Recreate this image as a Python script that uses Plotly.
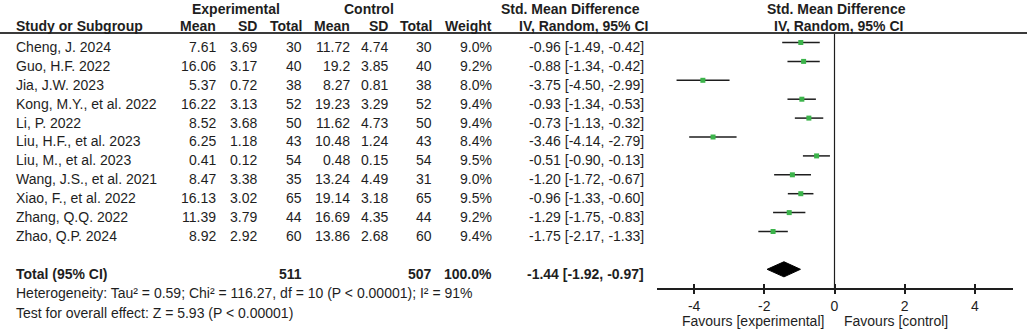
import plotly.graph_objects as go

# ---------------- data ----------------
studies = ["Cheng, J. 2024", "Guo, H.F. 2022", "Jia, J.W. 2023", "Kong, M.Y., et al. 2022",
           "Li, P. 2022", "Liu, H.F., et al. 2023", "Liu, M., et al. 2023", "Wang, J.S., et al. 2021",
           "Xiao, F., et al. 2022", "Zhang, Q.Q. 2022", "Zhao, Q.P. 2024"]
exp_mean = ["7.61", "16.06", "5.37", "16.22", "8.52", "6.25", "0.41", "8.47", "16.13", "11.39", "8.92"]
exp_sd = ["3.69", "3.17", "0.72", "3.13", "3.68", "1.18", "0.12", "3.38", "3.02", "3.79", "2.92"]
exp_n = [30, 40, 38, 52, 50, 43, 54, 35, 65, 44, 60]
ctl_mean = ["11.72", "19.2", "8.27", "19.23", "11.62", "10.48", "0.48", "13.24", "19.14", "16.69", "13.86"]
ctl_sd = ["4.74", "3.85", "0.81", "3.29", "4.73", "1.24", "0.15", "4.49", "3.18", "4.35", "2.68"]
ctl_n = [30, 40, 38, 52, 50, 43, 54, 31, 65, 44, 60]
weight = [9.0, 9.2, 8.0, 9.4, 9.4, 8.4, 9.5, 9.0, 9.5, 9.2, 9.4]
smd = [-0.96, -0.88, -3.75, -0.93, -0.73, -3.46, -0.51, -1.20, -0.96, -1.29, -1.75]
ci_lo = [-1.49, -1.34, -4.50, -1.34, -1.13, -4.14, -0.90, -1.72, -1.33, -1.75, -2.17]
ci_hi = [-0.42, -0.42, -2.99, -0.53, -0.32, -2.79, -0.13, -0.67, -0.60, -0.83, -1.33]

total_exp_n = 511
total_ctl_n = 507
total_weight = 100.0
total_smd = -1.44
total_lo = -1.92
total_hi = -0.97

heterogeneity = "Heterogeneity: Tau² = 0.59; Chi² = 116.27, df = 10 (P < 0.00001); I² = 91%"
overall_test = "Test for overall effect: Z = 5.93 (P < 0.00001)"
tick_vals = [-4, -2, 0, 2, 4]
tick_text = ["-4", "-2", "0", "2", "4"]

# ---------------- layout constants ----------------
W, H = 1029, 330
ROW0, ROWH = 42.5, 18.9          # pixel y of first row marks, row height
TEXT_OFF = 4.5                   # text sits a bit lower than marks
AXIS_PX = 288
TOTAL_ROW = len(studies) + 1
FONT = "Liberation Sans, Arial, sans-serif"
TXT = "#1e1e1e"
FS = 14

def py(px):
    return 1 - px / H

def row_px(i):
    return ROW0 + ROWH * i + TEXT_OFF

fig = go.Figure()

n = len(studies)
rows = list(range(n))
err_plus = [h - m for h, m in zip(ci_hi, smd)]
err_minus = [m - l for m, l in zip(smd, ci_lo)]

# zero line
fig.add_trace(go.Scatter(x=[0, 0], y=[-0.5, TOTAL_ROW + 1], mode="lines",
                         line=dict(color="#1e1e1e", width=1.2), hoverinfo="skip", showlegend=False))

# CIs + squares
fig.add_trace(go.Scatter(
    x=smd, y=rows, mode="markers",
    marker=dict(symbol="square", size=5, color="#3cb44b"),
    error_x=dict(type="data", array=err_plus, arrayminus=err_minus, symmetric=False,
                 thickness=1.5, width=0, color="#1e1e1e"),
    showlegend=False, hoverinfo="skip"))

# diamond
dh = 0.4
fig.add_trace(go.Scatter(
    x=[total_lo, total_smd, total_hi, total_smd, total_lo],
    y=[TOTAL_ROW, TOTAL_ROW - dh, TOTAL_ROW, TOTAL_ROW + dh, TOTAL_ROW],
    mode="lines", fill="toself", fillcolor="#000000", line=dict(color="#000000", width=1),
    showlegend=False, hoverinfo="skip"))

# invisible trace for the overlay axis (inside ticks)
fig.add_trace(go.Scatter(x=[0], y=[0], xaxis="x2", yaxis="y", mode="markers",
                         marker=dict(opacity=0), showlegend=False, hoverinfo="skip"))

# axes
x0_px, x1_px = 657, 1013
zero_px, unit_px = 834.5, 35.1
xr = [-(zero_px - x0_px) / unit_px, (x1_px - zero_px) / unit_px]
y_top = -ROW0 / ROWH
y_bot = (AXIS_PX - ROW0) / ROWH
ydom = [1 - AXIS_PX / H, 1]

fig.update_layout(
    width=W, height=H, margin=dict(l=0, r=0, t=0, b=0),
    paper_bgcolor="white", plot_bgcolor="white",
    xaxis=dict(domain=[x0_px / W, x1_px / W], range=xr, showgrid=False, zeroline=False,
               showline=True, linecolor="#1e1e1e", linewidth=1.5,
               ticks="outside", ticklen=4, tickwidth=1.5, tickcolor="#1e1e1e",
               tickvals=tick_vals, ticktext=tick_text,
               tickfont=dict(family=FONT, size=FS, color=TXT), anchor="y"),
    xaxis2=dict(domain=[x0_px / W, x1_px / W], range=xr, overlaying="x", matches="x",
                showgrid=False, zeroline=False, showline=False,
                ticks="inside", ticklen=4, tickwidth=1.5, tickcolor="#1e1e1e",
                tickvals=tick_vals, showticklabels=False, anchor="y", side="bottom"),
    yaxis=dict(domain=ydom, range=[y_bot, y_top], visible=False, showgrid=False, zeroline=False),
    font=dict(family=FONT, size=FS, color=TXT),
)

# header underline
fig.add_shape(type="line", xref="paper", yref="paper", x0=0, x1=1027 / W, y0=py(33), y1=py(33),
              line=dict(color="#3a3a3a", width=2))

ann = []

def add(text, xpx, ypx, anchor="right", bold=False):
    if bold:
        text = "<b>" + text + "</b>"
    ann.append(dict(text=text, x=xpx / W, y=py(ypx), xref="paper", yref="paper",
                    xanchor=anchor, yanchor="middle", showarrow=False,
                    font=dict(family=FONT, size=FS, color=TXT)))

# column right edges
C_STUDY, C_EM, C_ES, C_EN, C_CM, C_CS, C_CN, C_W, C_CI = 14, 218, 259, 304, 352, 390, 434, 494, 646

# headers
H1, H2 = 9, 25.5
add("Experimental", 236, H1, "center", True)
add("Control", 369, H1, "center", True)
add("Std. Mean Difference", 570, H1, "center", True)
add("Std. Mean Difference", 836, H1, "center", True)
add("Study or Subgroup", C_STUDY, H2, "left", True)
for lab, c in [("Mean", C_EM), ("SD", C_ES), ("Total", C_EN), ("Mean", C_CM), ("SD", C_CS),
               ("Total", C_CN), ("Weight", C_W)]:
    add(lab, c, H2, "right", True)
add("IV, Random, 95% CI", 583, H2, "center", True)
add("IV, Random, 95% CI", 838, H2, "center", True)

# study rows
for i in range(n):
    y = row_px(i)
    add(studies[i], C_STUDY, y, "left")
    add(exp_mean[i], C_EM, y)
    add(exp_sd[i], C_ES, y)
    add(str(exp_n[i]), C_EN, y)
    add(ctl_mean[i], C_CM, y)
    add(ctl_sd[i], C_CS, y)
    add(str(ctl_n[i]), C_CN, y)
    add(f"{weight[i]:.1f}%", C_W, y)
    add(f"{smd[i]:.2f} [{ci_lo[i]:.2f}, {ci_hi[i]:.2f}]", C_CI, y)

# total row
yt = row_px(TOTAL_ROW)
add("Total (95% CI)", C_STUDY, yt, "left", True)
add(str(total_exp_n), C_EN, yt, "right", True)
add(str(total_ctl_n), C_CN, yt, "right", True)
add(f"{total_weight:.1f}%", C_W, yt, "right", True)
add(f"{total_smd:.2f} [{total_lo:.2f}, {total_hi:.2f}]", C_CI, yt, "right", True)

add(heterogeneity, C_STUDY, 293, "left")
add(overall_test, C_STUDY, 313, "left")

add("Favours [experimental]", 826, 321, "right")
add("Favours [control]", 842, 321, "left")

fig.update_layout(annotations=ann)
fig.write_html("out.html", config={"displayModeBar": False},
               post_script="document.body.style.margin='0';document.body.style.overflow='hidden';")
